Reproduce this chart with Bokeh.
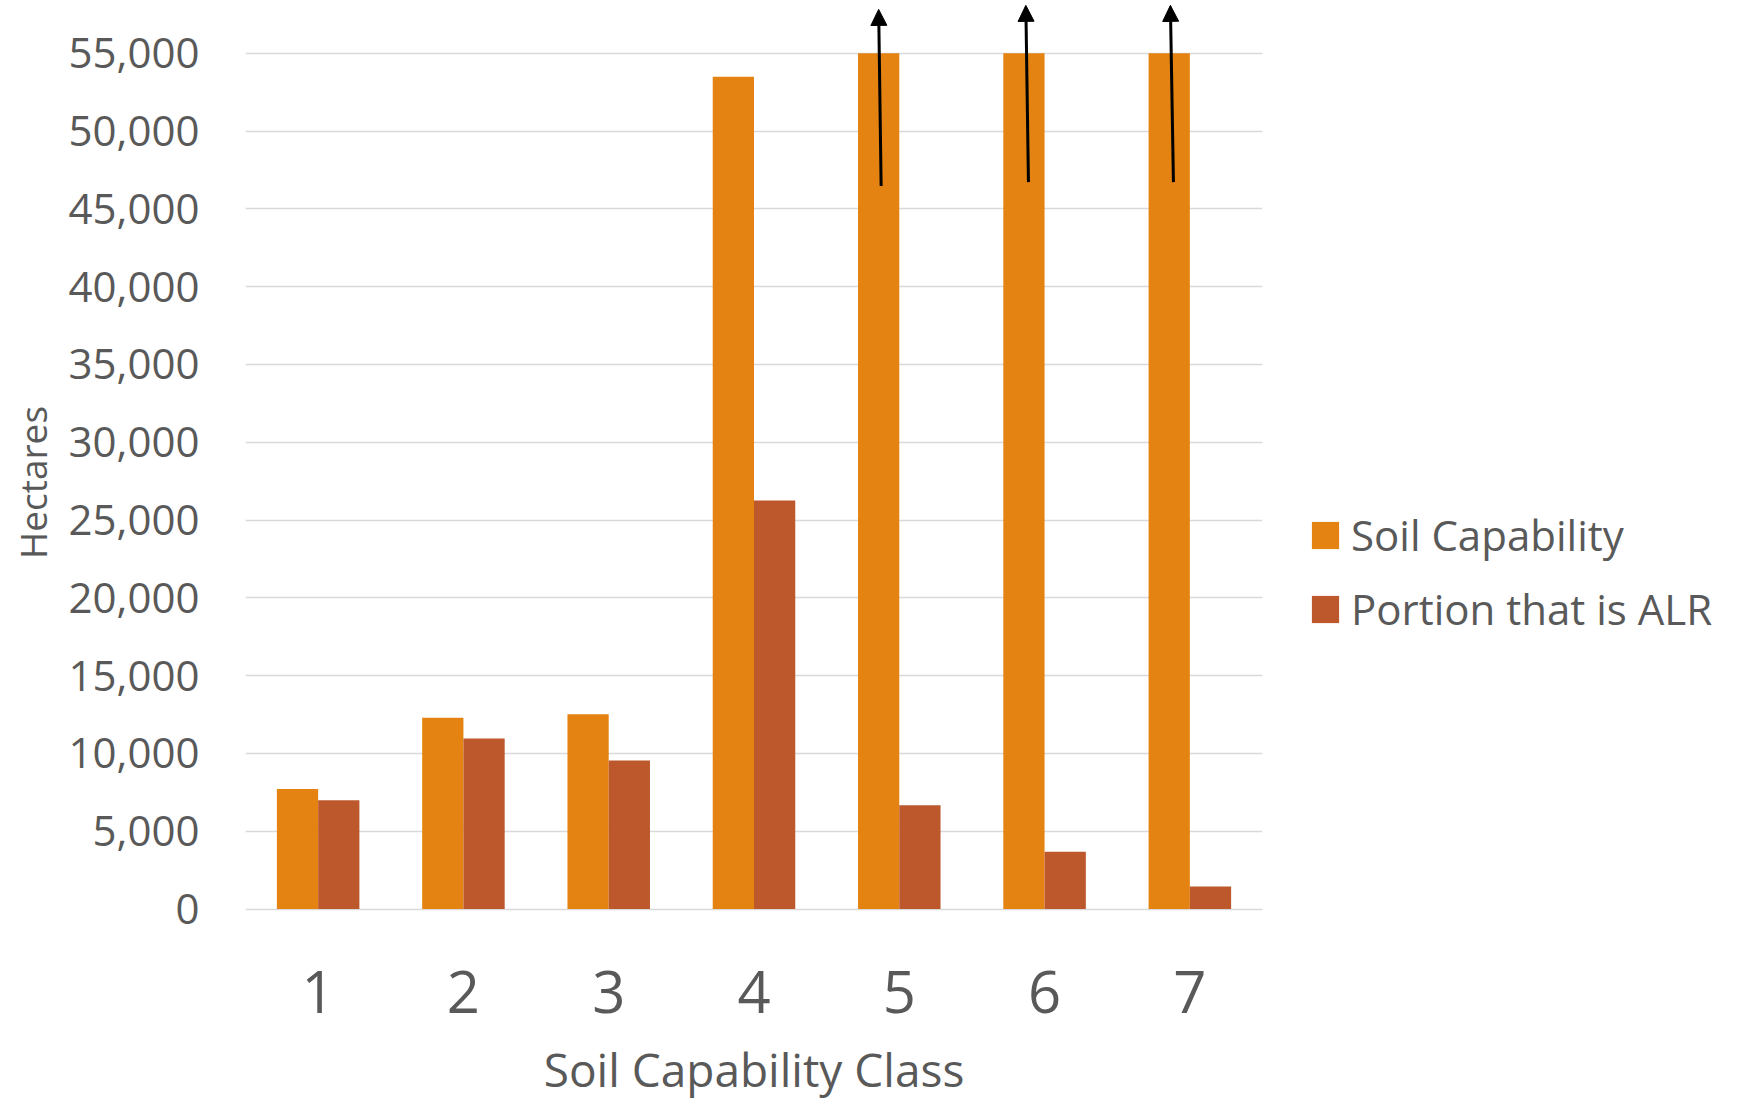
import numpy as np
from bokeh.plotting import figure
from bokeh.models import (ColumnDataSource, Range1d, FixedTicker, NumeralTickFormatter,
                          Legend, LegendItem, Arrow, NormalHead)
from bokeh.transform import dodge
from bokeh.embed import file_html
from bokeh.resources import INLINE

# ---- data ----
classes = ["1", "2", "3", "4", "5", "6", "7"]
soil_capability = [7720, 12300, 12530, 53500, 55000, 55000, 55000]
portion_alr = [6990, 10960, 9550, 26260, 6680, 3680, 1460]
series_names = ["Soil Capability", "Portion that is ALR"]
y_ticks = [0, 5000, 10000, 15000, 20000, 25000, 30000, 35000, 40000, 45000, 50000, 55000]
# classes whose capability bar is cut at the top of the axis (marked by arrows)
truncated = ["5", "6", "7"]
arrow_from = [46470, 46720, 46720]
arrow_to = [57820, 58080, 58080]

FONT = "Open Sans"
TXT = "#595959"
C1 = "#E48312"
C2 = "#BD582C"

xs = np.arange(1, len(classes) + 1)
src = ColumnDataSource(dict(x=xs, cap=soil_capability, alr=portion_alr))

p = figure(frame_width=1017, frame_height=958,
           x_range=Range1d(0.5, 7.5), y_range=Range1d(-3368, 58200),
           output_backend="svg", toolbar_location=None,
           min_border_top=3, min_border_bottom=0, min_border_left=245, min_border_right=0,
           outline_line_color=None, background_fill_color="white", border_fill_color="white")

off = 0.142
bw = 0.284
r1 = p.vbar(x=dodge("x", -off), top="cap", width=bw, source=src,
            fill_color=C1, line_color=None)
r2 = p.vbar(x=dodge("x", off), top="alr", width=bw, source=src,
            fill_color=C2, line_color=None)

tail_dx = [0.017, 0.031, 0.029]
tip_dx = [0.0, 0.013, 0.008]
for i, c in enumerate(truncated):
    xc = classes.index(c) + 1 - off
    p.add_layout(Arrow(end=NormalHead(size=16, fill_color="black", line_color="black", line_width=1),
                       x_start=xc + tail_dx[i], y_start=arrow_from[i],
                       x_end=xc + tip_dx[i], y_end=arrow_to[i],
                       line_width=3, line_color="black"))

# axes
p.yaxis.ticker = FixedTicker(ticks=y_ticks)
p.yaxis.formatter = NumeralTickFormatter(format="0,0")
p.yaxis.axis_label = "Hectares"
p.yaxis.axis_label_text_font = FONT
p.yaxis.axis_label_text_font_size = "37px"
p.yaxis.axis_label_text_font_style = "normal"
p.yaxis.axis_label_text_color = TXT
p.yaxis.axis_label_standoff = 8
p.yaxis.major_label_text_font = FONT
p.yaxis.major_label_text_font_size = "42px"
p.yaxis.major_label_text_color = TXT
p.yaxis.major_label_standoff = 46
p.yaxis.axis_line_color = None
p.yaxis.major_tick_line_color = None
p.yaxis.minor_tick_line_color = None
p.yaxis.major_tick_out = 0
p.yaxis.minor_tick_out = 0

p.xaxis.ticker = FixedTicker(ticks=[int(v) for v in xs])
p.xaxis.major_label_overrides = {int(v): c for v, c in zip(xs, classes)}
p.xaxis.axis_label = "Soil Capability Class"
p.xaxis.axis_label_text_font = FONT
p.xaxis.axis_label_text_font_size = "46px"
p.xaxis.axis_label_text_font_style = "normal"
p.xaxis.axis_label_text_color = TXT
p.xaxis.axis_label_standoff = 22
p.xaxis.major_label_text_font = FONT
p.xaxis.major_label_text_font_size = "58px"
p.xaxis.major_label_text_color = TXT
p.xaxis.major_label_standoff = 9
p.xaxis.axis_line_color = None
p.xaxis.major_tick_line_color = None
p.xaxis.minor_tick_line_color = None
p.xaxis.major_tick_out = 0
p.xaxis.minor_tick_out = 0

p.xgrid.visible = False
p.ygrid.grid_line_color = "#D9D9D9"
p.ygrid.grid_line_width = 1.5

legend = Legend(items=[LegendItem(label=series_names[0], renderers=[r1]),
                       LegendItem(label=series_names[1], renderers=[r2])],
                location=(46, 324), margin=26, padding=0,
                border_line_color=None, background_fill_alpha=0,
                glyph_width=34, glyph_height=34, label_height=57, spacing=17,
                label_standoff=9, label_text_font=FONT, label_text_font_size="42px",
                label_text_color=TXT)
p.add_layout(legend, "right")

open("out.html", "w").write(file_html(p, INLINE))
